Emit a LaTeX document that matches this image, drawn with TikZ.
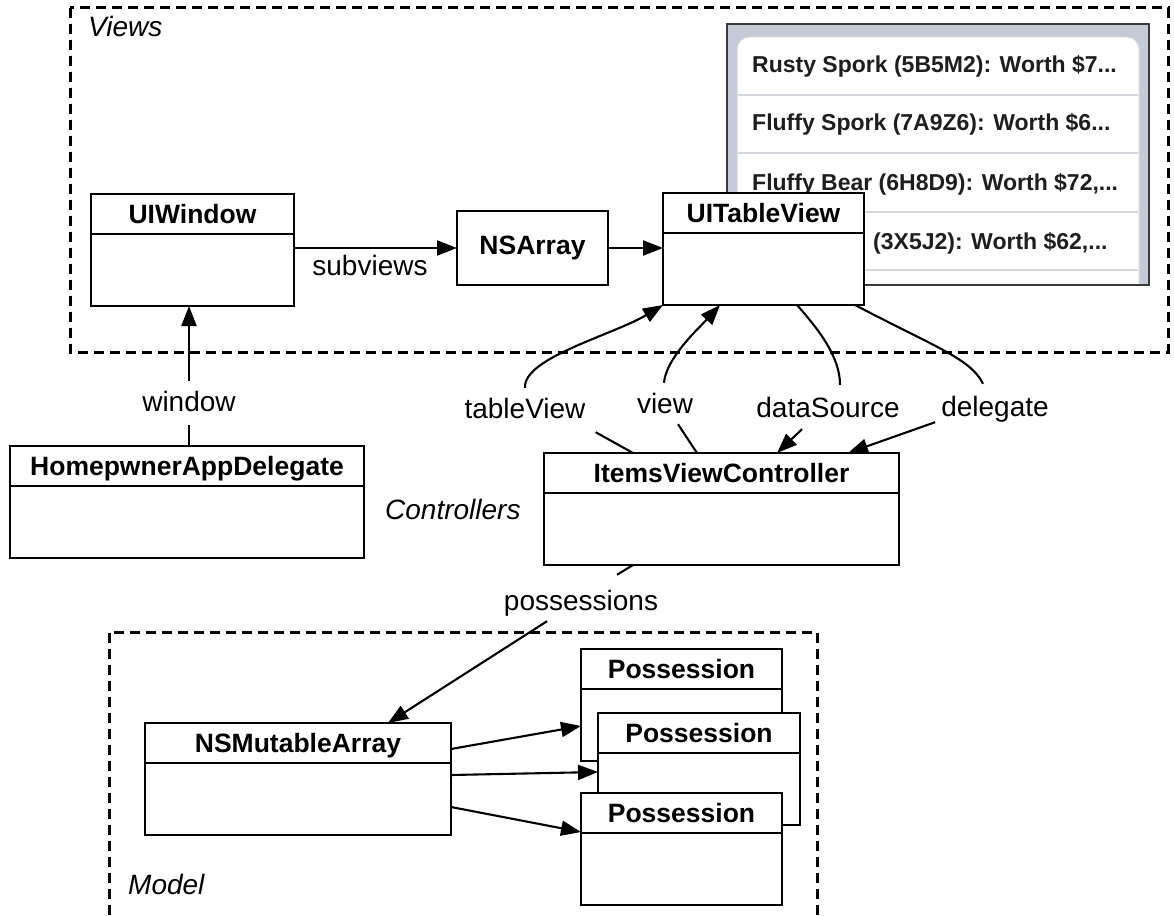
\documentclass[tikz,border=0pt]{standalone}
\usepackage{fontspec}
\setmainfont{Liberation Sans}
\definecolor{shotframe}{HTML}{3A3A3A}
\definecolor{shotband}{HTML}{C4CBD6}
\definecolor{shotrule}{HTML}{D2D5DA}
\definecolor{shottext}{HTML}{1E1E1E}
\usetikzlibrary{arrows.meta,calc}

\begin{document}
\begin{tikzpicture}[
      x=1pt, y=-1pt,
      cls/.style={draw, fill=white, line width=2.4pt, inner sep=0pt, outer sep=0pt,
                  anchor=north west, text height=29pt, text depth=83pt,
                  font=\fontsize{26.5}{30}\selectfont\bfseries,
                  path picture={\draw[line width=2.2pt]
                    ([yshift=-40pt]path picture bounding box.north west) --
                    ([yshift=-40pt]path picture bounding box.north east);}},
      plainbox/.style={draw, fill=white, line width=2.4pt, outer sep=0pt,
                       anchor=north west, minimum width=151pt, minimum height=74pt,
                       font=\fontsize{26.5}{30}\selectfont\bfseries},
      lbl/.style={font=\fontsize{28}{32}\selectfont, anchor=base, inner sep=10pt,
                  text height=20pt, text depth=4pt},
      zonelbl/.style={font=\fontsize{28}{32}\selectfont\itshape, anchor=base west,
                      inner sep=0pt},
      shotrow/.style={font=\fontsize{23}{27}\selectfont\bfseries, text=shottext,
                      anchor=base west, inner sep=0pt},
      zone/.style={line width=3pt, dash pattern=on 10pt off 6pt},
      rel/.style={line width=2.1pt},
      arr/.style={rel, -{Triangle[length=20pt, width=15pt]}},
    ]
    \useasboundingbox (0,0) rectangle (1174,915);

    % ---------- zones ----------
    \draw[zone] (70,8) rectangle (1168,352);
    \draw[zone] (109,915) -- (109,632) -- (817,632) -- (817,915);
    \node[zonelbl] (tviews) at (88,37) {Views};
    \node[zonelbl] (tctrl) at (385,519) {Controllers};
    \node[zonelbl] (tmodel) at (128,894) {Model};

    % ---------- table screenshot ----------
    \fill[shotband] (727,24) rectangle (1149,285);
    \begin{scope}
      \clip (727,24) rectangle (1149,285);
      \filldraw[fill=white, draw=shotrule, line width=1pt, rounded corners=12pt]
        (737,37) rectangle (1139,330);
    \end{scope}
    \foreach \y in {95,153,212,270}
      \draw[shotrule, line width=1.5pt] (738,\y) -- (1138,\y);
    \node[shotrow] (row1) at (752,73) {Rusty Spork (5B5M2): Worth \$7...};
    \node[shotrow] (row2) at (752,130) {Fluffy Spork (7A9Z6): Worth \$6...};
    \node[shotrow] (row3) at (752,190) {Fluffy Bear (6H8D9): Worth \$72,...};
    \node[shotrow] (row4) at (873,249) {(3X5J2): Worth \$62,...};
    \draw[shotframe, line width=2.5pt] (727,24) rectangle (1149,285);

    % ---------- classes ----------
    \node[cls, minimum width=203pt] (win) at (91,194) {UIWindow};
    \node[plainbox] (nsarr) at (457,211) {NSArray};
    \node[cls, minimum width=201pt] (tbv) at (663,193) {UITableView};
    \node[cls, minimum width=354pt] (had) at (10,446) {HomepwnerAppDelegate};
    \node[cls, minimum width=355pt] (ivc) at (544,453) {ItemsViewController};
    \node[cls, minimum width=306pt] (nsma) at (145,723) {NSMutableArray};
    \node[cls, minimum width=201pt] (posA) at (581,649) {Possession};
    \node[cls, minimum width=202pt] (posB) at (598,713) {Possession};
    \node[cls, minimum width=201pt] (posC) at (581,793) {Possession};

    % ---------- labels ----------
    \node[lbl] (lwin) at (189,411) {window};
    \node[lbl] (lsub) at (370,275) {subviews};
    \node[lbl] (ltv) at (525,418) {tableView};
    \node[lbl] (lview) at (665,413) {view};
    \node[lbl] (lds) at (828,417) {dataSource};
    \node[lbl] (ldel) at (995,416) {delegate};
    \node[lbl] (lposs) at (581,610) {possessions};

    % ---------- relations ----------
    \draw[arr] (lwin.north) -- (lwin.north |- win.south);
    \draw[rel] (lwin.south) -- (lwin.south |- had.north);
    \draw[arr] (nsarr.west -| win.east) -- (nsarr.west);
    \draw[arr] (nsarr.east) -- (nsarr.east -| tbv.west);

    \draw[rel] (ltv.south east) -- ($(ivc.north west)+(89,0)$);
    \draw[arr] (ltv.north) .. controls ($(ltv.north)+(-2,-30)$)
      and ($(tbv.south west)+(-50,30)$) .. (tbv.south west);
    \draw[rel] ($(lview.south)+(13,-3)$) -- ($(ivc.north west)+(153,0)$);
    \draw[arr] ($(lview.north)+(-1,0)$) .. controls ($(lview.north)+(1,-25)$)
      and ($(tbv.south west)+(37,22)$) .. ($(tbv.south west)+(57,0)$);
    \draw[rel] ($(tbv.south west)+(134,0)$) .. controls +(22,25) and +(0,-28)
      .. ($(lds.north)+(12,-2)$);
    \draw[arr] ($(lds.south)+(-26,-2)$) -- ($(ivc.north west)+(233,0)$);
    \draw[rel] ($(tbv.south east)+(-9,0)$) .. controls +(80,42) and +(-12,-25)
      .. ($(ldel.north)+(-12,-2)$);
    \draw[arr] ($(ldel.south west)+(4,-8)$) -- ($(ivc.north west)+(304,0)$);

    \draw[rel] ($(ivc.south west)+(89,0)$) -- ($(lposs.north)+(36,-5)$);
    \draw[arr] ($(lposs.south)+(-34,-3)$) -- ($(nsma.north west)+(243,0)$);
    \draw[arr] ($(nsma.north east)+(0,26)$) -- ($(posA.north west)+(0,77)$);
    \draw[arr] ($(nsma.north east)+(0,52)$) -- ($(posB.north west)+(0,59)$);
    \draw[arr] ($(nsma.north east)+(0,84)$) -- ($(posC.north west)+(0,39)$);

  \end{tikzpicture}
\end{document}
